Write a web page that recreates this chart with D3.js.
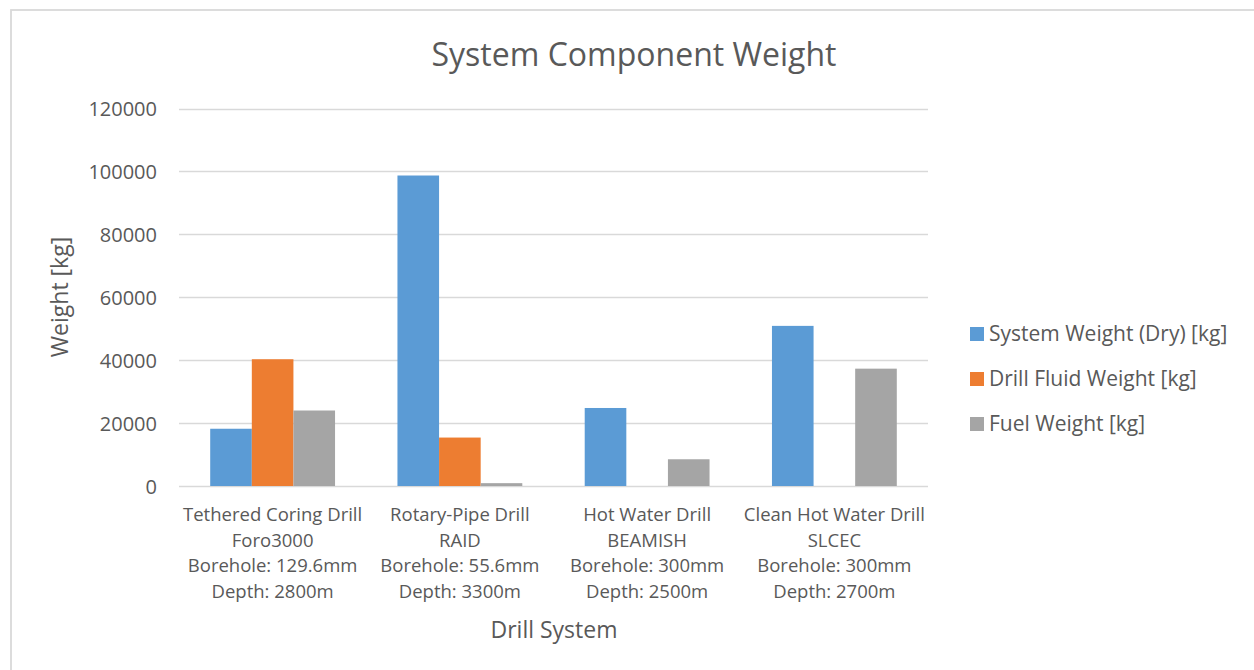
<!DOCTYPE html>
<html><head><meta charset="utf-8">
<script src="https://cdn.jsdelivr.net/npm/d3@7"></script>
<style>body{margin:0;background:#fff}svg{display:block}text{font-family:"Open Sans",sans-serif;fill:#595959}</style>
</head><body><svg id="c" width="1254" height="670"></svg>
<script>
const categories = [
  ["Tethered Coring Drill","Foro3000","Borehole: 129.6mm","Depth: 2800m"],
  ["Rotary-Pipe Drill","RAID","Borehole: 55.6mm","Depth: 3300m"],
  ["Hot Water Drill","BEAMISH","Borehole: 300mm","Depth: 2500m"],
  ["Clean Hot Water Drill","SLCEC","Borehole: 300mm","Depth: 2700m"]
];
const seriesNames = ["System Weight (Dry) [kg]","Drill Fluid Weight [kg]","Fuel Weight [kg]"];
const systemWeight = [18200, 98700, 24800, 50900];
const fluidWeight = [40300, 15400, 0, 0];
const fuelWeight = [24000, 900, 8500, 37300];
const yTicks = [0, 20000, 40000, 60000, 80000, 100000, 120000];
const colors = ["#5b9bd5","#ed7d31","#a5a5a5"];
const seriesValues = [systemWeight, fluidWeight, fuelWeight];

const svg = d3.select("#c");
svg.append("rect").attr("x",11).attr("y",10).attr("width",1300).attr("height",700)
  .attr("fill","#fff").attr("stroke","#d9d9d9").attr("stroke-width",1.8);

const m = {left:179, right:928, top:108.5, bottom:486};
const x0 = d3.scaleBand().domain(d3.range(categories.length)).range([m.left,m.right]).paddingInner(1/3).paddingOuter(1/6);
const x1 = d3.scaleBand().domain(d3.range(seriesNames.length)).range([0,x0.bandwidth()]);
const y = d3.scaleLinear().domain([0,120000]).range([m.bottom,m.top]);

// grid
svg.append("g").selectAll("line").data(yTicks).join("line")
  .attr("x1",m.left).attr("x2",m.right)
  .attr("y1",d=>Math.round(y(d))+0.5).attr("y2",d=>Math.round(y(d))+0.5)
  .attr("stroke","#d9d9d9").attr("stroke-width",1.3);

// y axis labels
const yAxis = d3.axisLeft(y).tickValues(yTicks).tickFormat(d3.format("d")).tickSize(0).tickPadding(22);
const ga = svg.append("g").attr("transform",`translate(${m.left},0)`).call(yAxis);
ga.select(".domain").remove();
ga.selectAll("text").style("font-size","20px").attr("fill","#595959").attr("dy","0.35em").style("font-family","'Open Sans',sans-serif");

// bars
const groups = svg.append("g").selectAll("g").data(categories.map((c,i)=>i)).join("g")
  .attr("transform",i=>`translate(${x0(i)},0)`);
groups.selectAll("rect").data(i=>seriesValues.map((s,k)=>({k,v:s[i]})).filter(d=>d.v>0)).join("rect")
  .attr("x",d=>x1(d.k)).attr("width",x1.bandwidth())
  .attr("y",d=>y(d.v)).attr("height",d=>y(0)-y(d.v))
  .attr("fill",d=>colors[d.k]);

// x labels
const xl = svg.append("g").selectAll("text").data(categories.map((c,i)=>i)).join("text")
  .attr("text-anchor","middle").style("font-size","18.5px");
xl.selectAll("tspan").data(i=>categories[i].map(t=>({t,i}))).join("tspan")
  .attr("x",d=>x0(d.i)+x0.bandwidth()/2).attr("y",(d,j)=>521+j*25.5).text(d=>d.t);

// titles
svg.append("text").attr("x",634).attr("y",66).attr("text-anchor","middle").style("font-size","32px").text("System Component Weight");
svg.append("text").attr("x",554).attr("y",638).attr("text-anchor","middle").style("font-size","23px").text("Drill System");
svg.append("text").attr("transform","translate(68,297) rotate(-90)").attr("text-anchor","middle").style("font-size","23px").text("Weight [kg]");

// legend
const lg = svg.append("g").selectAll("g").data(seriesNames.map((n,i)=>i)).join("g")
  .attr("transform",i=>`translate(970,${334+i*45})`);
lg.append("rect").attr("x",0).attr("y",-7).attr("width",14).attr("height",14).attr("fill",i=>colors[i]);
lg.append("text").attr("x",19).attr("y",0).attr("dy","0.35em").style("font-size","21px").text(i=>seriesNames[i]);
</script></body></html>
